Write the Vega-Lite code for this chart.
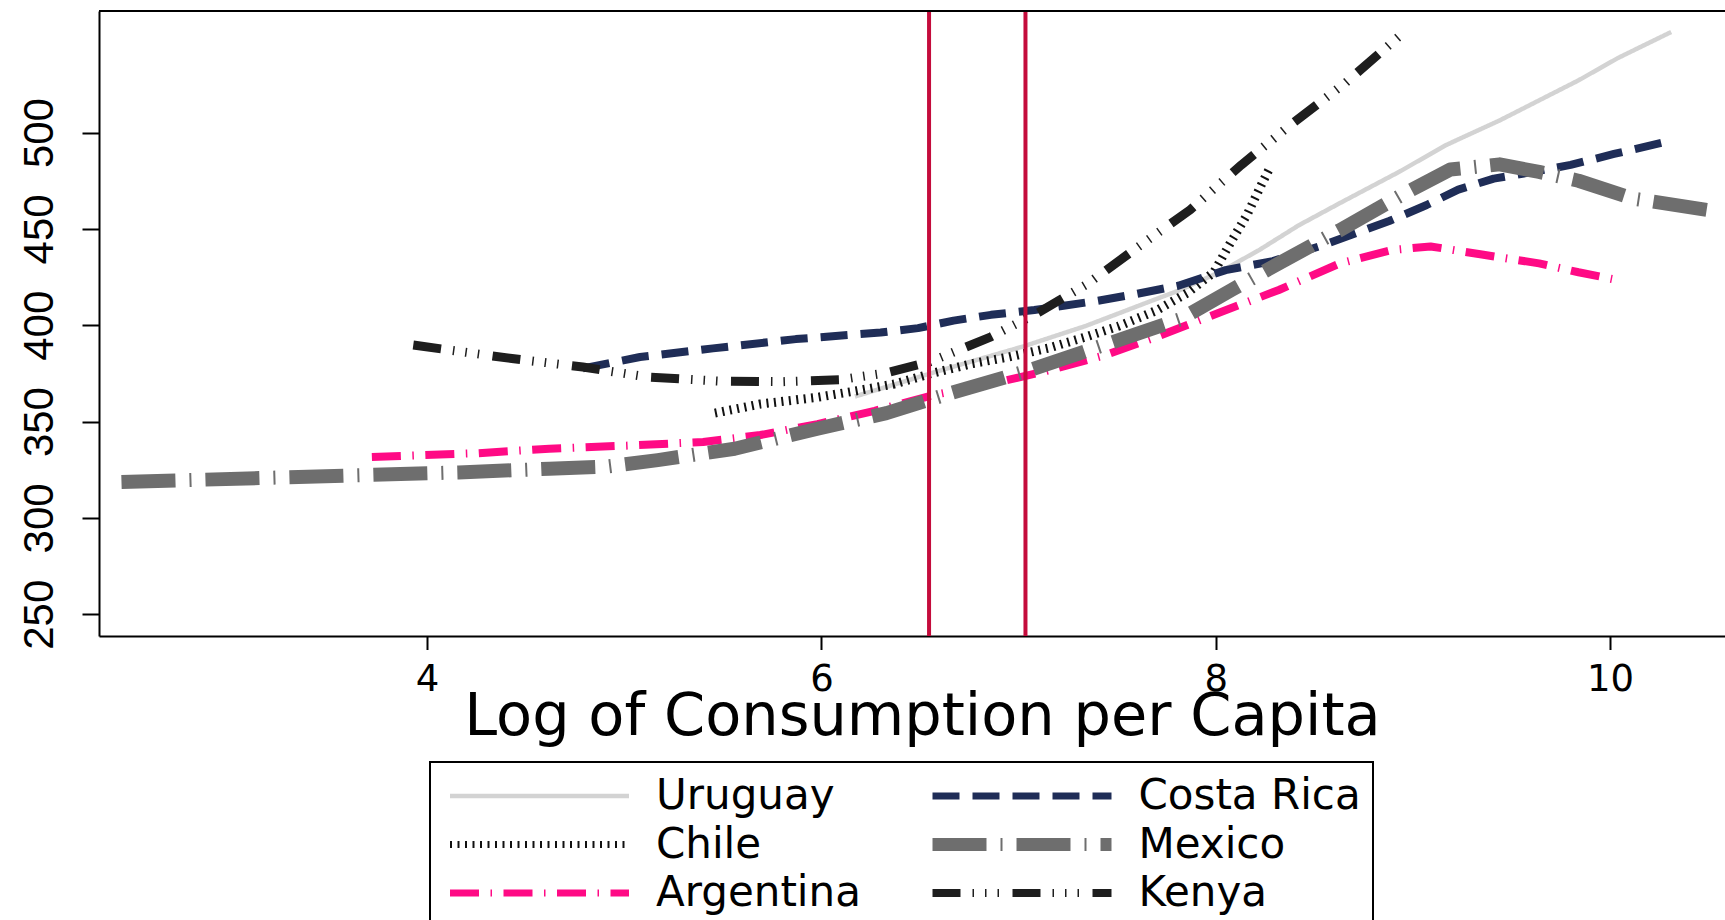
{
  "$schema": "https://vega.github.io/schema/vega-lite/v6.json",
  "width": 1626,
  "height": 625,
  "autosize": {"type": "none"},
  "padding": {"left": 99, "top": 11, "right": 0, "bottom": 284},
  "background": "white",
  "config": {
    "view": {"stroke": null},
    "axis": {"grid": false, "domainColor": "black", "tickColor": "black", "labelColor": "black", "titleColor": "black"},
    "legend": {"strokeWidth": 2}
  },
  "datasets": {
    "series": [
      {"country": "Uruguay", "lncons": 6.17, "score": 363.0},
      {"country": "Uruguay", "lncons": 6.57, "score": 375.5},
      {"country": "Uruguay", "lncons": 7.03, "score": 389.2},
      {"country": "Uruguay", "lncons": 7.34, "score": 399.6},
      {"country": "Uruguay", "lncons": 7.67, "score": 412.5},
      {"country": "Uruguay", "lncons": 7.82, "score": 418.3},
      {"country": "Uruguay", "lncons": 8.02, "score": 427.6},
      {"country": "Uruguay", "lncons": 8.22, "score": 439.0},
      {"country": "Uruguay", "lncons": 8.42, "score": 451.8},
      {"country": "Uruguay", "lncons": 8.63, "score": 463.4},
      {"country": "Uruguay", "lncons": 8.93, "score": 479.6},
      {"country": "Uruguay", "lncons": 9.17, "score": 493.6},
      {"country": "Uruguay", "lncons": 9.44, "score": 506.3},
      {"country": "Uruguay", "lncons": 9.84, "score": 527.1},
      {"country": "Uruguay", "lncons": 10.04, "score": 538.7},
      {"country": "Uruguay", "lncons": 10.31, "score": 552.2},

      {"country": "Chile", "lncons": 5.46, "score": 354.4},
      {"country": "Chile", "lncons": 5.69, "score": 359.1},
      {"country": "Chile", "lncons": 5.98, "score": 362.6},
      {"country": "Chile", "lncons": 6.18, "score": 366.0},
      {"country": "Chile", "lncons": 6.37, "score": 369.5},
      {"country": "Chile", "lncons": 6.57, "score": 375.3},
      {"country": "Chile", "lncons": 6.76, "score": 380.0},
      {"country": "Chile", "lncons": 6.95, "score": 383.5},
      {"country": "Chile", "lncons": 7.15, "score": 388.1},
      {"country": "Chile", "lncons": 7.34, "score": 393.9},
      {"country": "Chile", "lncons": 7.51, "score": 399.6},
      {"country": "Chile", "lncons": 7.70, "score": 407.7},
      {"country": "Chile", "lncons": 7.86, "score": 417.0},
      {"country": "Chile", "lncons": 7.99, "score": 427.5},
      {"country": "Chile", "lncons": 8.08, "score": 443.7},
      {"country": "Chile", "lncons": 8.16, "score": 457.6},
      {"country": "Chile", "lncons": 8.23, "score": 472.6},
      {"country": "Chile", "lncons": 8.27, "score": 480.8},

      {"country": "Argentina", "lncons": 3.72, "score": 331.6},
      {"country": "Argentina", "lncons": 4.26, "score": 333.6},
      {"country": "Argentina", "lncons": 4.62, "score": 335.9},
      {"country": "Argentina", "lncons": 5.01, "score": 337.5},
      {"country": "Argentina", "lncons": 5.40, "score": 339.4},
      {"country": "Argentina", "lncons": 5.69, "score": 343.0},
      {"country": "Argentina", "lncons": 5.98, "score": 348.7},
      {"country": "Argentina", "lncons": 6.27, "score": 355.6},
      {"country": "Argentina", "lncons": 6.57, "score": 363.8},
      {"country": "Argentina", "lncons": 6.86, "score": 369.5},
      {"country": "Argentina", "lncons": 7.15, "score": 376.5},
      {"country": "Argentina", "lncons": 7.44, "score": 384.5},
      {"country": "Argentina", "lncons": 7.70, "score": 394.0},
      {"country": "Argentina", "lncons": 8.02, "score": 406.6},
      {"country": "Argentina", "lncons": 8.32, "score": 418.3},
      {"country": "Argentina", "lncons": 8.63, "score": 432.1},
      {"country": "Argentina", "lncons": 8.89, "score": 439.0},
      {"country": "Argentina", "lncons": 9.09, "score": 440.9},
      {"country": "Argentina", "lncons": 9.35, "score": 436.7},
      {"country": "Argentina", "lncons": 9.64, "score": 432.1},
      {"country": "Argentina", "lncons": 9.84, "score": 427.5},
      {"country": "Argentina", "lncons": 10.01, "score": 424.0},

      {"country": "Costa Rica", "lncons": 4.79, "score": 377.6},
      {"country": "Costa Rica", "lncons": 5.08, "score": 383.5},
      {"country": "Costa Rica", "lncons": 5.45, "score": 388.0},
      {"country": "Costa Rica", "lncons": 5.87, "score": 392.8},
      {"country": "Costa Rica", "lncons": 6.30, "score": 396.2},
      {"country": "Costa Rica", "lncons": 6.49, "score": 398.5},
      {"country": "Costa Rica", "lncons": 6.67, "score": 402.4},
      {"country": "Costa Rica", "lncons": 6.86, "score": 405.4},
      {"country": "Costa Rica", "lncons": 7.08, "score": 407.9},
      {"country": "Costa Rica", "lncons": 7.39, "score": 412.5},
      {"country": "Costa Rica", "lncons": 7.58, "score": 415.9},
      {"country": "Costa Rica", "lncons": 7.81, "score": 420.5},
      {"country": "Costa Rica", "lncons": 8.05, "score": 428.6},
      {"country": "Costa Rica", "lncons": 8.29, "score": 433.3},
      {"country": "Costa Rica", "lncons": 8.54, "score": 441.4},
      {"country": "Costa Rica", "lncons": 8.88, "score": 454.1},
      {"country": "Costa Rica", "lncons": 9.07, "score": 462.4},
      {"country": "Costa Rica", "lncons": 9.23, "score": 470.4},
      {"country": "Costa Rica", "lncons": 9.41, "score": 476.1},
      {"country": "Costa Rica", "lncons": 9.61, "score": 479.6},
      {"country": "Costa Rica", "lncons": 9.80, "score": 483.2},
      {"country": "Costa Rica", "lncons": 10.02, "score": 488.9},
      {"country": "Costa Rica", "lncons": 10.28, "score": 495.1},

      {"country": "Mexico", "lncons": 2.45, "score": 318.6},
      {"country": "Mexico", "lncons": 3.19, "score": 320.8},
      {"country": "Mexico", "lncons": 4.16, "score": 323.6},
      {"country": "Mexico", "lncons": 4.62, "score": 325.5},
      {"country": "Mexico", "lncons": 4.91, "score": 326.6},
      {"country": "Mexico", "lncons": 5.17, "score": 330.0},
      {"country": "Mexico", "lncons": 5.56, "score": 335.9},
      {"country": "Mexico", "lncons": 5.98, "score": 346.3},
      {"country": "Mexico", "lncons": 6.33, "score": 354.4},
      {"country": "Mexico", "lncons": 6.66, "score": 364.9},
      {"country": "Mexico", "lncons": 7.05, "score": 376.5},
      {"country": "Mexico", "lncons": 7.34, "score": 386.5},
      {"country": "Mexico", "lncons": 7.60, "score": 395.5},
      {"country": "Mexico", "lncons": 7.82, "score": 403.1},
      {"country": "Mexico", "lncons": 8.08, "score": 418.3},
      {"country": "Mexico", "lncons": 8.32, "score": 432.1},
      {"country": "Mexico", "lncons": 8.63, "score": 449.4},
      {"country": "Mexico", "lncons": 8.95, "score": 468.0},
      {"country": "Mexico", "lncons": 9.19, "score": 480.8},
      {"country": "Mexico", "lncons": 9.44, "score": 483.5},
      {"country": "Mexico", "lncons": 9.64, "score": 479.6},
      {"country": "Mexico", "lncons": 9.84, "score": 475.0},
      {"country": "Mexico", "lncons": 10.12, "score": 465.7},
      {"country": "Mexico", "lncons": 10.49, "score": 459.9},

      {"country": "Kenya", "lncons": 3.93, "score": 389.7},
      {"country": "Kenya", "lncons": 4.43, "score": 382.7},
      {"country": "Kenya", "lncons": 4.79, "score": 378.3},
      {"country": "Kenya", "lncons": 5.12, "score": 373.1},
      {"country": "Kenya", "lncons": 5.48, "score": 371.0},
      {"country": "Kenya", "lncons": 5.80, "score": 370.7},
      {"country": "Kenya", "lncons": 6.10, "score": 371.8},
      {"country": "Kenya", "lncons": 6.33, "score": 375.3},
      {"country": "Kenya", "lncons": 6.55, "score": 381.0},
      {"country": "Kenya", "lncons": 6.86, "score": 394.0},
      {"country": "Kenya", "lncons": 7.10, "score": 406.6},
      {"country": "Kenya", "lncons": 7.35, "score": 421.5},
      {"country": "Kenya", "lncons": 7.60, "score": 440.2},
      {"country": "Kenya", "lncons": 7.87, "score": 459.9},
      {"country": "Kenya", "lncons": 8.13, "score": 483.2},
      {"country": "Kenya", "lncons": 8.38, "score": 504.0},
      {"country": "Kenya", "lncons": 8.66, "score": 526.0},
      {"country": "Kenya", "lncons": 8.94, "score": 550.8}
    ],
    "cutoffs": [
      {"cutoff": 6.546},
      {"cutoff": 7.035}
    ]
  },
  "layer": [
    {
      "data": {"name": "series"},
      "mark": {"type": "line", "strokeCap": "butt", "strokeJoin": "round"},
      "encoding": {
        "x": {
          "field": "lncons", "type": "quantitative",
          "scale": {"domain": [2.336, 10.583], "nice": false, "zero": false},
          "axis": {
            "values": [4, 6, 8, 10], "format": "d",
            "domainWidth": 2, "tickWidth": 2, "tickSize": 13.5,
            "labelFont": "DejaVu Sans", "labelFontSize": 37, "labelPadding": 12,
            "title": "Log of Consumption per Capita",
            "titleFont": "DejaVu Sans", "titleFontSize": 59, "titleFontWeight": "normal",
            "titleX": 823, "titleY": 98, "titleAlign": "center", "titleBaseline": "alphabetic"
          }
        },
        "y": {
          "field": "score", "type": "quantitative",
          "scale": {"domain": [238.7, 563.1], "nice": false, "zero": false},
          "axis": {
            "values": [250, 300, 350, 400, 450, 500],
            "title": null,
            "domainWidth": 2, "tickWidth": 2, "tickSize": 17,
            "labelAngle": -90, "labelAlign": "center", "labelBaseline": "bottom",
            "labelFont": "Liberation Sans Narrow, Liberation Sans", "labelFontSize": 42, "labelPadding": 21
          }
        },
        "color": {
          "field": "country", "type": "nominal",
          "scale": {
            "domain": ["Uruguay", "Chile", "Argentina", "Costa Rica", "Mexico", "Kenya"],
            "range": ["#d3d3d3", "#111111", "#ff0a85", "#1f2d57", "#6e6e6e", "#1e1e1e"]
          },
          "legend": {
            "title": null, "orient": "none", "legendX": 331, "legendY": 751,
            "direction": "vertical", "columns": 2,
            "symbolType": "stroke", "symbolSize": 32041, "symbolOffset": 76.5,
            "labelFont": "DejaVu Sans", "labelFontSize": 42, "labelColor": "black",
            "labelOffset": 95.5, "labelLimit": 600,
            "clipHeight": 44,
            "columnPadding": 63.5, "rowPadding": 4.5, "padding": 12,
            "strokeColor": "black",
            "encode": {
              "symbols": {
                "update": {
                  "strokeWidth": {"signal": "datum.value === 'Mexico' ? 13 : datum.value === 'Uruguay' ? 4.5 : datum.value === 'Kenya' ? 8 : 7"}
                }
              }
            }
          }
        },
        "strokeDash": {
          "field": "country", "type": "nominal",
          "scale": {
            "domain": ["Uruguay", "Chile", "Argentina", "Costa Rica", "Mexico", "Kenya"],
            "range": [[1, 0], [2, 5.5], [29, 11.5, 1.5, 11.5], [27, 13], [54, 14, 2, 14], [28, 12, 1.5, 11, 1.5, 11, 1.5, 13.5]]
          }
        },
        "strokeWidth": {
          "condition": [
            {"test": "datum.country === 'Mexico'", "value": 14},
            {"test": "datum.country === 'Uruguay'", "value": 4.5},
            {"test": "datum.country === 'Kenya'", "value": 9},
            {"test": "datum.country === 'Chile'", "value": 9}
          ],
          "value": 8
        }
      }
    },
    {
      "data": {"name": "cutoffs"},
      "mark": {"type": "rule", "color": "#c40c3c", "strokeWidth": 4},
      "encoding": {"x": {"field": "cutoff", "type": "quantitative"}}
    },
    {
      "data": {"values": [{}]},
      "mark": {"type": "rule", "color": "black", "strokeWidth": 2},
      "encoding": {"y": {"datum": 563.1}}
    }
  ]
}
